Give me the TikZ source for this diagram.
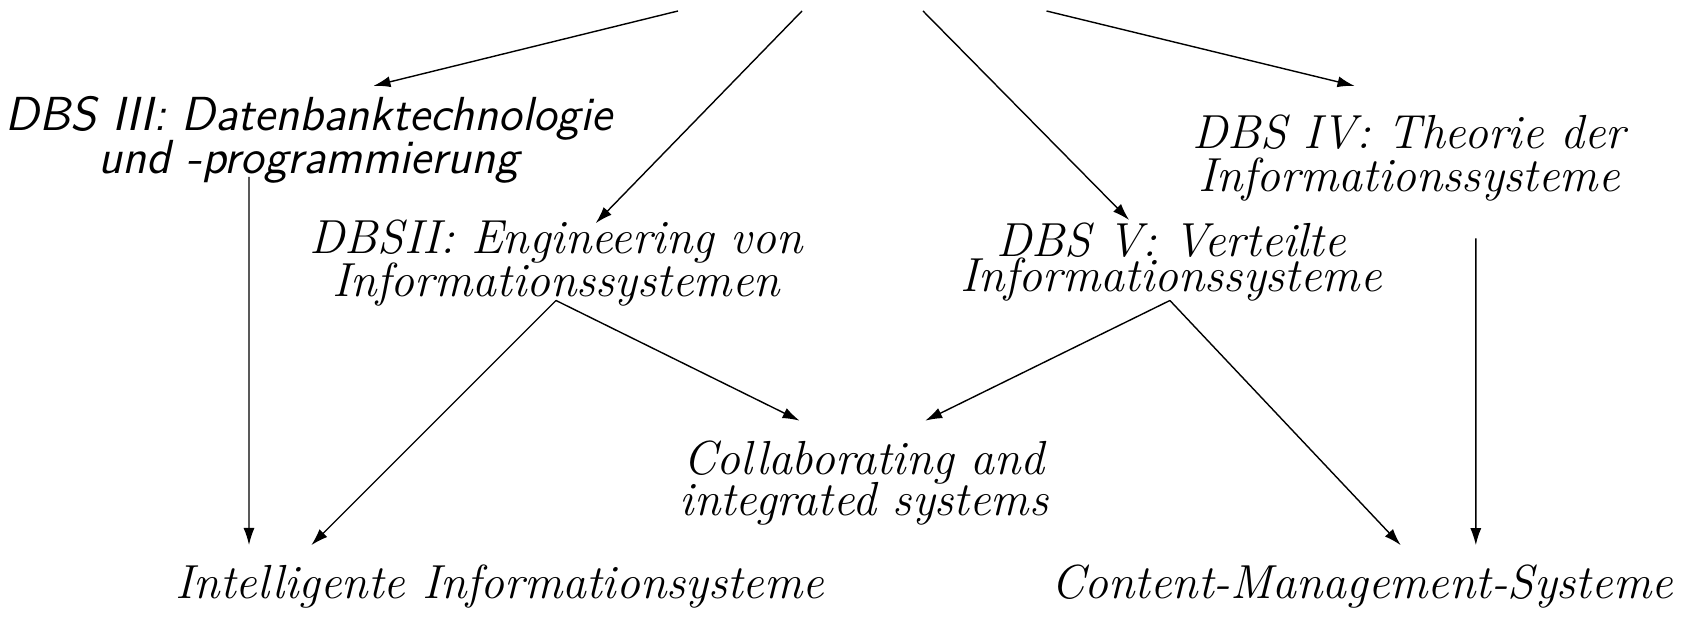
\documentclass[tikz,border=0pt]{standalone}
\usetikzlibrary{arrows.meta, positioning}
\lineskiplimit=-20pt

\begin{document}
\begin{tikzpicture}[
    course/.style={align=center, inner sep=0pt, font=\itshape\fontsize{13.6}{12.2}\selectfont},
    course_sf/.style={course, font=\sffamily\slshape\fontsize{13.6}{12.2}\selectfont},
    arrow/.style={-{Latex[length=1.7mm, width=1.1mm]}, thin}
]
    \useasboundingbox (0,0) rectangle (16.83,6.27);

    % Courses
    \node[course_sf] (dbs3) at (3.09, 4.875) {DBS III: Datenbanktechnologie\\und -programmierung};
    \node[course] (dbs2) at (5.56, 3.64) {DBSII: Engineering von\\Informationssystemen};
    \node[course] (dbs4) at (14.09, 4.687) {DBS IV: Theorie der\\Informationssysteme};
    \node[course, font=\itshape\fontsize{13.6}{10}\selectfont] (dbs5) at (11.71, 3.651) {DBS V: Verteilte\\Informationssysteme};
    \node[course, font=\itshape\fontsize{13.6}{11.5}\selectfont] (collab) at (8.64, 1.44) {Collaborating and\\integrated systems};

    % Topics at the bottom
    \node[course] (intel) at (5.00, 0.40) {Intelligente Informationsysteme};
    \node[course] (cms) at (13.62, 0.40) {Content-Management-Systeme};

    % Free ends of the arrows coming from above
    \coordinate (top1) at (6.78, 6.16);
    \coordinate (top2) at (8.02, 6.16);
    \coordinate (top3) at (9.23, 6.16);
    \coordinate (top4) at (10.465, 6.16);

    % Arrows from above
    \draw[arrow] (top1) -- ([shift={(0.645, 0.536)}]dbs3.center);
    \draw[arrow] (top2) -- ([shift={(0.397, 0.398)}]dbs2.center);
    \draw[arrow] (top3) -- ([shift={(-0.419, 0.419)}]dbs5.center);
    \draw[arrow] (top4) -- ([shift={(-0.545, 0.724)}]dbs4.center);

    % Arrows down to the topics
    \draw[arrow] ([shift={(-0.60, -0.375)}]dbs3.center) -- ([shift={(-2.51, 0.42)}]intel.center);
    \draw[arrow] ([yshift=-0.375cm]dbs2.center) -- ([shift={(-1.887, 0.418)}]intel.center);
    \draw[arrow] ([yshift=-0.375cm]dbs2.center) -- ([shift={(-0.644, 0.623)}]collab.center);
    \draw[arrow] ([shift={(-0.011, -0.386)}]dbs5.center) -- ([shift={(0.612, 0.623)}]collab.center);
    \draw[arrow] ([shift={(-0.011, -0.386)}]dbs5.center) -- ([shift={(0.387, 0.418)}]cms.center);
    \draw[arrow] ([shift={(0.668, -0.80)}]dbs4.center) -- ([shift={(1.138, 0.418)}]cms.center);

\end{tikzpicture}
\end{document}
